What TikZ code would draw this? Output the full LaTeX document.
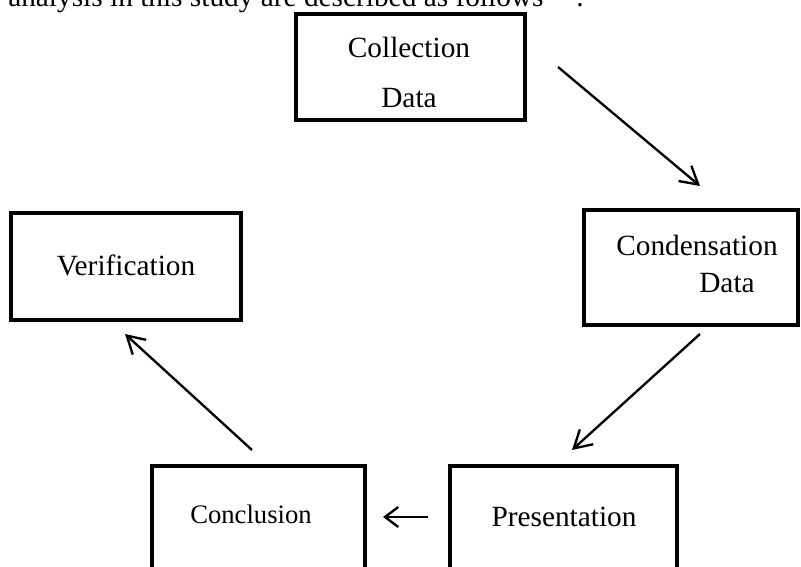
\documentclass[tikz,border=0pt]{standalone}
\usepackage{fontspec}
\setmainfont{Liberation Serif}
\usetikzlibrary{arrows.meta}
\begin{document}
\begin{tikzpicture}[x=0.75pt,y=-0.75pt,
  box/.style={draw, line width=3pt, inner sep=0pt, outer sep=0pt},
  txt/.style={font=\fontsize{22}{26}\selectfont, anchor=base, inner sep=0pt},
  smalltxt/.style={font=\fontsize{20}{24}\selectfont, anchor=base, inner sep=0pt},
  conn/.style={line width=1.75pt, -{Straight Barb[length=13pt,width=15pt]}},
  shortconn/.style={line width=1.75pt, -{Straight Barb[length=10pt,width=15pt]}}]
\useasboundingbox (0,0) rectangle (801,567);
\clip (0,0) rectangle (801,567);
% running text cut off at the top
\node[txt, anchor=base west] (intro) at (8,7) {analysis in this study are described as follows};
\node[txt] (dot) at (580,7) {.};
% boxes
\node[box, minimum width=171.75pt, minimum height=79.5pt] (col) at (410.5,67) {};
\node[box, minimum width=160.5pt, minimum height=86.25pt] (cond) at (691,267.5) {};
\node[box, minimum width=172.5pt, minimum height=80.25pt] (ver) at (126,266.5) {};
\node[box, minimum width=159.75pt, minimum height=115.5pt] (conc) at (258.5,543) {};
\node[box, minimum width=170.25pt, minimum height=115.5pt] (pres) at (563.5,543) {};
% labels
\node[txt] (colA) at (409,58) {Collection};
\node[txt] (colB) at (409,108) {Data};
\node[txt] (condA) at (697,255) {Condensation};
\node[txt] (condB) at (727,292) {Data};
\node[txt] (verA) at (126,275) {Verification};
\node[smalltxt] (concA) at (251,523) {Conclusion};
\node[txt] (presA) at (564,526) {Presentation};
% connector ends
\coordinate (a1s) at (558,67);  \coordinate (a1e) at (700,186);
\coordinate (a2s) at (700,334); \coordinate (a2e) at (572,450);
\coordinate (a3s) at (252,450); \coordinate (a3e) at (125,334);
\coordinate (a4s) at (428,517); \coordinate (a4e) at (383,517);
\draw[conn] (a1s) -- (a1e);
\draw[conn] (a2s) -- (a2e);
\draw[conn] (a3s) -- (a3e);
\draw[shortconn] (a4s) -- (a4e);
\end{tikzpicture}
\end{document}
